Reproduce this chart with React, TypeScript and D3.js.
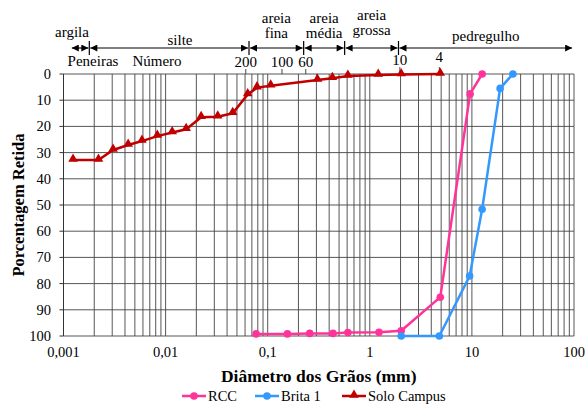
import * as d3 from "d3";

// curvas granulométricas: diâmetro (mm) x porcentagem retida
const rccDiam = [12.6, 9.6, 4.9, 2.03, 1.23, 0.61, 0.436, 0.258, 0.156, 0.077];
const rccRet = [0, 7.6, 85.2, 98, 98.6, 98.7, 99, 99, 99.2, 99.2];

const britaDiam = [25.2, 18.9, 12.6, 9.5, 4.8, 2.03];
const britaRet = [0, 5.5, 51.6, 77.1, 100, 100];

const soloDiam = [4.9, 2.03, 1.21, 0.61, 0.43, 0.307, 0.107, 0.0786, 0.0637, 0.0454, 0.0324, 0.0223, 0.0159, 0.0116, 0.0083, 0.00587, 0.0043, 0.00306, 0.0022, 0.00124];
const soloRet = [0, 0.2, 0.4, 0.8, 1.6, 2.3, 4.5, 5.2, 7.8, 15, 16.3, 16.5, 21.1, 22.3, 23.7, 25.6, 27.1, 29, 32.8, 32.8];

const xTicks = [0.001, 0.01, 0.1, 1, 10, 100];
const xTickLabels = ["0,001", "0,01", "0,1", "1", "10", "100"];
const yTicks = [0, 10, 20, 30, 40, 50, 60, 70, 80, 90, 100];

// peneiras (número) e sua posição em mm
const sieveLabels = ["200", "100", "60", "10", "4"];
const sieveDiam = [0.061, 0.138, 0.236, 1.97, 4.8];

// classificação do solo
const classBounds = [0.00118, 0.00179, 0.0656, 0.225, 0.567, 1.91, 98];
const classNames = [["argila"], ["silte"], ["areia", "fina"], ["areia", "média"], ["areia", "grossa"], ["pedregulho"]];

const W = 585;
const H = 404;
const margin = { top: 74, right: 11, bottom: 68, left: 63.5 };
const font = "'Liberation Serif', 'Times New Roman', serif";

const App = () => {
  const x = d3.scaleLog().domain([0.001, 100]).range([margin.left, W - margin.right]);
  const y = d3.scaleLinear().domain([0, 100]).range([margin.top, H - margin.bottom]);

  // linhas verticais do grid: 1..9 em cada década
  const gridX: number[] = [];
  for (let e = -3; e < 2; e++) {
    for (let k = 1; k < 10; k++) gridX.push(k * Math.pow(10, e));
  }
  gridX.push(100);

  const line = d3.line<[number, number]>().x(d => x(d[0])).y(d => y(d[1]));
  const series = [
    { name: "RCC", color: "#ff3399", d: rccDiam.map((v, i) => [v, rccRet[i]] as [number, number]), mark: "circle" },
    { name: "Brita 1", color: "#3399ff", d: britaDiam.map((v, i) => [v, britaRet[i]] as [number, number]), mark: "circle" },
    { name: "Solo Campus", color: "#c00000", d: soloDiam.map((v, i) => [v, soloRet[i]] as [number, number]), mark: "tri" },
  ];
  const tri = d3.symbol().type(d3.symbolTriangle).size(40);

  const arrowY = 48;
  const legendX = [182, 255, 342];

  return (
    <svg width={W} height={H} style={{ position: "absolute", left: 0, top: 0, background: "#fff", fontFamily: font }}>
      <defs>
        <marker id="ah" viewBox="0 0 10 10" refX="10" refY="5" markerWidth="8" markerHeight="7" markerUnits="userSpaceOnUse" orient="auto-start-reverse">
          <path d="M0,0 L10,5 L0,10 z" fill="#000" />
        </marker>
      </defs>

      {/* grid */}
      {gridX.map((v, i) => (
        <line key={"gx" + i} x1={x(v)} x2={x(v)} y1={y(0)} y2={y(100)} stroke="#444" strokeWidth={0.9} />
      ))}
      {yTicks.map(t => (
        <line key={"gy" + t} x1={margin.left} x2={W - margin.right} y1={y(t)} y2={y(t)} stroke="#444" strokeWidth={0.9} />
      ))}
      <line x1={margin.left} x2={margin.left} y1={y(0)} y2={y(100)} stroke="#333" />
      {yTicks.map(t => (
        <g key={"ty" + t}>
          <line x1={margin.left - 4} x2={margin.left} y1={y(t)} y2={y(t)} stroke="#333" />
          <text x={51} y={y(t) + 5} textAnchor="end" fontSize={14.5}>{t}</text>
        </g>
      ))}
      {xTicks.map((t, i) => (
        <text key={"tx" + t} x={x(t)} y={357} textAnchor="middle" fontSize={14.5}>{xTickLabels[i]}</text>
      ))}

      {/* peneiras */}
      <text x={93} y={66} textAnchor="middle" fontSize={15}>Peneiras</text>
      <text x={157} y={66} textAnchor="middle" fontSize={15}>Número</text>
      {sieveLabels.map((s, i) => (
        <g key={"s" + s}>
          <text x={x(sieveDiam[i])} y={i < 3 ? 67 : i === 3 ? 65 : 62} textAnchor="middle" fontSize={15}>{s}</text>
          <line x1={x(sieveDiam[i])} x2={x(sieveDiam[i])} y1={i < 3 ? 69 : 67} y2={y(0)} stroke="#333" strokeWidth={0.9} />
        </g>
      ))}

      {/* classificação */}
      {classNames.map((n, i) => {
        const a = x(classBounds[i]);
        const b = x(classBounds[i + 1]);
        const cx = (a + b) / 2;
        return (
          <g key={"c" + i}>
            <line x1={a + 1} x2={b - 1} y1={arrowY} y2={arrowY} stroke="#000" strokeWidth={1.2} markerStart="url(#ah)" markerEnd="url(#ah)" />
            {i > 0 && <line x1={a} x2={a} y1={arrowY - 7} y2={arrowY + 7} stroke="#000" strokeWidth={1.2} />}
            {n.length === 1 ? (
              <text x={i === 0 ? 72 : i === 1 ? 180 : cx} y={i === 0 ? 37 : i === 1 ? 45 : 41} textAnchor="middle" fontSize={15}>{n[0]}</text>
            ) : (
              <>
                <text x={cx} y={i === 4 ? 20 : 23} textAnchor="middle" fontSize={15}>{n[0]}</text>
                <text x={cx} y={i === 4 ? 35 : 38} textAnchor="middle" fontSize={15}>{n[1]}</text>
              </>
            )}
          </g>
        );
      })}

      {/* séries */}
      {series.map(s => (
        <g key={s.name}>
          <path d={line(s.d) || ""} fill="none" stroke={s.color} strokeWidth={2.5} />
          {s.d.map((p, i) =>
            s.mark === "circle" ? (
              <circle key={i} cx={x(p[0])} cy={y(p[1])} r={3.8} fill={s.color} />
            ) : (
              <path key={i} d={tri() || ""} transform={`translate(${x(p[0])},${y(p[1]) - 1})`} fill={s.color} />
            )
          )}
        </g>
      ))}

      {/* títulos */}
      <text x={(margin.left + W - margin.right) / 2} y={382} textAnchor="middle" fontSize={17.5} fontWeight="bold">Diâmetro dos Grãos (mm)</text>
      <text transform={`translate(24,${(y(0) + y(100)) / 2}) rotate(-90)`} textAnchor="middle" fontSize={16.5} fontWeight="bold">Porcentagem Retida</text>

      {/* legenda */}
      {series.map((s, i) => (
        <g key={"l" + s.name} transform={`translate(${legendX[i]},396)`}>
          <line x1={0} x2={24} y1={0} y2={0} stroke={s.color} strokeWidth={2.5} />
          {s.mark === "circle" ? (
            <circle cx={12} cy={0} r={3.8} fill={s.color} />
          ) : (
            <path d={tri() || ""} transform="translate(12,-1)" fill={s.color} />
          )}
          <text x={26} y={4.5} fontSize={14.5}>{s.name}</text>
        </g>
      ))}
    </svg>
  );
};

export default App;
